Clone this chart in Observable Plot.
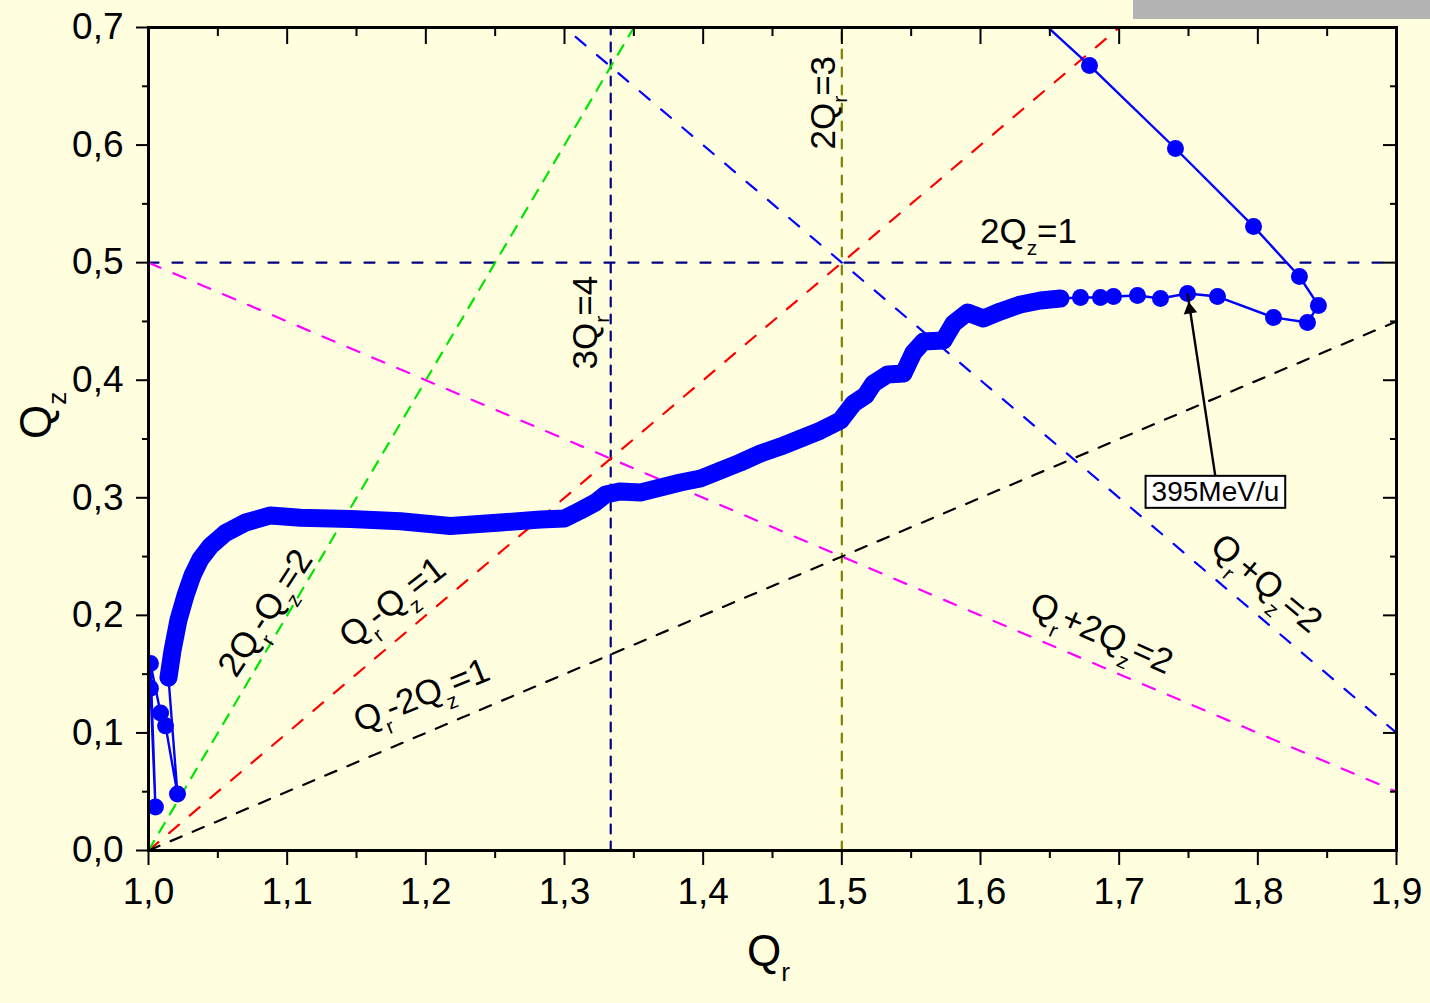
<!DOCTYPE html>
<html><head><meta charset="utf-8">
<script src="https://cdn.jsdelivr.net/npm/d3@7"></script>
<script src="https://cdn.jsdelivr.net/npm/@observablehq/plot@0.6"></script>
<style>
html,body{margin:0;padding:0;background:#ffffe0;}
#wrap{position:relative;width:1430px;height:1003px;overflow:hidden;}
#bar{position:absolute;left:1133px;top:0;width:297px;height:19px;background:#b3b3b3;}
</style></head><body><div id="wrap"><div id="chart"></div><div id="bar"></div></div>
<script>
// Measured tune path (Qr, Qz)
const qr = [1.0014,1.0050,1.0014,1.0087,1.0123,1.0209,1.0144,
  1.0173,1.0216,1.0267,1.0317,1.0375,1.0447,1.0555,1.0700,1.0880,1.1096,1.1457,1.1817,1.2178,1.2538,1.2827,1.3000,
  1.3115,1.3223,1.3296,1.3404,1.3548,1.3692,1.3836,1.3981,1.4125,1.4269,1.4413,1.4558,1.4702,1.4846,1.4990,
  1.5084,1.5171,1.5228,1.5329,1.5445,1.5517,1.5589,1.5733,1.5805,1.5906,1.6021,1.6144,1.6288,1.6432,1.6577,1.6721,1.6865,
  1.6959,1.7132,1.7298,1.7493,1.7709,1.8113,1.8358,1.8437,1.8300,1.7969,1.7406,1.6786,1.6100];
const qz = [0.138,0.037,0.159,0.117,0.106,0.048,0.147,
  0.170,0.196,0.217,0.234,0.248,0.259,0.270,0.279,0.285,0.283,0.282,0.280,0.276,0.279,0.2815,0.2824,
  0.2892,0.2960,0.3028,0.3054,0.3045,0.3088,0.3130,0.3164,0.3232,0.3300,0.3377,0.3436,0.3504,0.3572,0.3657,
  0.3802,0.3870,0.3972,0.4049,0.4057,0.4236,0.4329,0.4338,0.4482,0.4576,0.4525,0.4585,0.4644,0.4678,0.4695,0.4704,0.4704,
  0.4712,0.4721,0.4695,0.4738,0.4712,0.4534,0.4491,0.4636,0.4882,0.5308,0.5971,0.6677,0.7420];
const markedEnergy = "395MeV/u";
const markedQr = 1.7493, markedQz = 0.4738;

// Resonance lines a*Qr + b*Qz = c
const resNames = ["2Q_z=1","3Q_r=4","2Q_r=3","Q_r-Q_z=1","2Q_r-Q_z=2","Q_r-2Q_z=1","Q_r+2Q_z=2","Q_r+Q_z=2"];
const resA = [0,3,2,1,2,1,1,1];
const resB = [2,0,0,-1,-1,-2,2,1];
const resC = [1,4,3,1,2,1,2,2];
const resColor = ["#000080","#000080","#808000","#ff0000","#00e600","#000000","#ff00ff","#0000ff"];
const resDash = ["10,14","9,8","9,9","13,14","11,10","12,12","13,14","13,15"];

const xMajor = [1.0,1.1,1.2,1.3,1.4,1.5,1.6,1.7,1.8,1.9];
const xMinor = [1.05,1.15,1.25,1.35,1.45,1.55,1.65,1.75,1.85];
const yMajor = [0,0.1,0.2,0.3,0.4,0.5,0.6,0.7];
const yMinor = [0.05,0.15,0.25,0.35,0.45,0.55,0.65];

const pts = qr.map((x,i)=>({x, y: qz[i], i}));
const denseStart = 6, denseEnd = qr.indexOf(1.6577);
const dense = pts.slice(denseStart, denseEnd+1);

const resLines = resNames.flatMap((n,k)=>{
  const a=resA[k], b=resB[k], c=resC[k];
  if (b===0) return [{k, x:c/a, y:0},{k, x:c/a, y:0.7}];
  return [{k, x:1.0, y:(c-a*1.0)/b},{k, x:1.9, y:(c-a*1.9)/b}];
});

const annotations = [
  {t:"2Q_r=3", x:1.4868, y:0.636, r:-90},
  {t:"3Q_r=4", x:1.3151, y:0.449, r:-90},
  {t:"2Q_z=1", x:1.6346, y:0.5265, r:0},
  {t:"2Q_r-Q_z=2", x:1.0844, y:0.202, r:-57},
  {t:"Q_r-Q_z=1", x:1.176, y:0.211, r:-38},
  {t:"Q_r-2Q_z=1", x:1.1969, y:0.1318, r:-22},
  {t:"Q_r+2Q_z=2", x:1.6873, y:0.1846, r:24},
  {t:"Q_r+Q_z=2", x:1.8062, y:0.2271, r:40}
];
const boxX = 1.7694, boxY = 0.3046, boxTopY = 0.318;
const fmt = d => d.toFixed(1).replace(".", ",");

const plot = Plot.plot({
  width: 1430, height: 1003,
  marginLeft: 148, marginRight: 34, marginTop: 27, marginBottom: 153,
  style: {background: "#ffffe0", fontFamily: "'Liberation Sans', Arial, sans-serif", color: "#000", overflow: "visible"},
  x: {domain: [1.0, 1.9]},
  y: {domain: [0, 0.7]},
  marks: [
    ...resNames.map((n,k)=>Plot.line(resLines.filter(d=>d.k===k), {x:"x", y:"y", stroke: resColor[k], strokeWidth: 2.2, strokeDasharray: resDash[k], clip: true})),
    Plot.line(pts, {x:"x", y:"y", stroke:"#0000ff", strokeWidth: 2.4, clip: true}),
    Plot.line(dense, {x:"x", y:"y", stroke:"#0000ff", strokeWidth: 18, strokeLinejoin:"round", strokeLinecap:"round"}),
    Plot.dot(pts, {x:"x", y:"y", r: 8.5, fill:"#0000ff", stroke: null, clip: true}),
    Plot.text(annotations, {x:"x", y:"y", text:"t", rotate:"r", fontSize: 35, fill:"#000"}),
    Plot.link([{x1: boxX, y1: boxTopY, x2: markedQr, y2: markedQz}], {x1:"x1", y1:"y1", x2:"x2", y2:"y2", stroke:"#000", strokeWidth: 2.4}),
    Plot.dot([{x: markedQr, y: markedQz}], {x:"x", y:"y", symbol:"triangle2", r: 6.5, fill:"#000", rotate: -9, dx: 2.3, dy: 16}),
    Plot.text([markedEnergy], {x: boxX, y: boxY, text: d=>d, fontSize: 28, fill:"#000", className:"energy-label"}),
    Plot.frame({stroke:"#000", strokeWidth: 3}),
    Plot.axisX(xMajor, {anchor:"bottom", tickSize: 15, tickPadding: 12, fontSize: 37, tickFormat: fmt, strokeWidth: 2, label: null}),
    Plot.axisX(xMinor, {anchor:"bottom", tickSize: 8, strokeWidth: 2, text: null, label: null}),
    Plot.axisX(xMajor, {anchor:"top", tickSize: 16, dy: 16, strokeWidth: 2, text: null, label: null}),
    Plot.axisX(xMinor, {anchor:"top", tickSize: 8, dy: 8, strokeWidth: 2, text: null, label: null}),
    Plot.axisY(yMajor, {anchor:"left", tickSize: 12, tickPadding: 13, fontSize: 37, tickFormat: fmt, strokeWidth: 2, label: null}),
    Plot.axisY(yMinor, {anchor:"left", tickSize: 6, strokeWidth: 2, text: null, label: null}),
    Plot.axisY(yMajor, {anchor:"right", tickSize: 14, dx: -14, strokeWidth: 2, text: null, label: null}),
    Plot.axisY(yMinor, {anchor:"right", tickSize: 7, dx: -7, strokeWidth: 2, text: null, label: null}),
    Plot.text(["Q_z"], {frameAnchor:"left", dx: -112, rotate: -90, fontSize: 44, fill:"#000"}),
    Plot.text(["Q_r"], {frameAnchor:"bottom", dx: -4, dy: 115, fontSize: 44, fill:"#000"})
  ]
});
document.getElementById("chart").appendChild(plot);

// subscripts: "_x" -> subscript x
plot.querySelectorAll("text").forEach(el => {
  const s = el.textContent;
  if (!s.includes("_")) return;
  const fs = parseFloat(getComputedStyle(el).fontSize) || 30;
  const shift = 0.36 * fs;
  el.textContent = "";
  let buf = "", pendingUp = false;
  const flush = () => {
    if (!buf) return;
    const t = document.createElementNS("http://www.w3.org/2000/svg","tspan");
    t.textContent = buf;
    if (pendingUp) { t.setAttribute("dy", -shift); pendingUp = false; }
    el.appendChild(t); buf = "";
  };
  for (let i = 0; i < s.length; i++) {
    if (s[i] === "_" && i+1 < s.length) {
      flush();
      const t = document.createElementNS("http://www.w3.org/2000/svg","tspan");
      t.textContent = s[i+1];
      t.setAttribute("font-size", 0.6*fs);
      t.setAttribute("dy", pendingUp ? 0 : shift);
      pendingUp = true;
      el.appendChild(t);
      i++;
    } else buf += s[i];
  }
  flush();
});

// box around energy label
plot.querySelectorAll(".energy-label text").forEach(el => {
  const bb = el.getBBox();
  const r = document.createElementNS("http://www.w3.org/2000/svg","rect");
  r.setAttribute("x", bb.x - 6); r.setAttribute("y", bb.y - 0.5);
  r.setAttribute("width", bb.width + 12); r.setAttribute("height", bb.height + 1);
  r.setAttribute("fill", "#fff"); r.setAttribute("stroke", "#000"); r.setAttribute("stroke-width", 2);
  const tr = el.getAttribute("transform");
  if (tr) r.setAttribute("transform", tr);
  el.parentNode.insertBefore(r, el);
});
</script></body></html>
